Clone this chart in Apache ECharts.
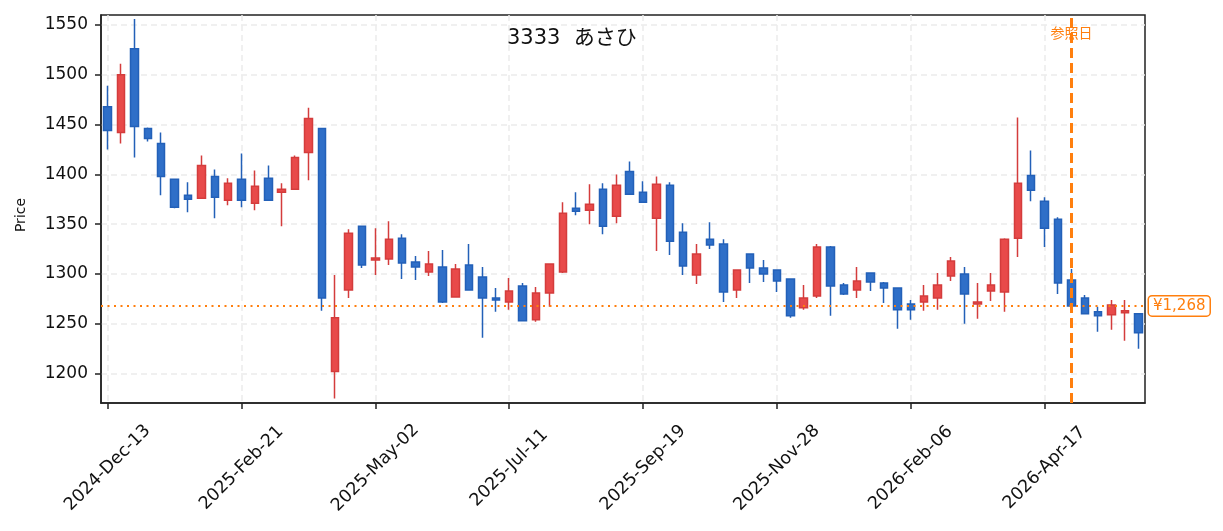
<!DOCTYPE html>
<html>
<head>
    <meta charset="UTF-8">
    <title>3333 あさひ</title>
    <script src="https://cdn.jsdelivr.net/npm/echarts@6/dist/echarts.min.js"></script>
    <style>
        html, body { margin:0; padding:0; background:#ffffff; }
        #chart { width:1223px; height:531px; }
    </style>
</head>
<body>
    <div id="chart"></div>
    <script>
        // weekly candles (Fri)
        var dates = [
            "2024-12-13","2024-12-20","2024-12-27","2025-01-03","2025-01-10","2025-01-17","2025-01-24","2025-01-31","2025-02-07","2025-02-14",
            "2025-02-21","2025-02-28","2025-03-07","2025-03-14","2025-03-21","2025-03-28","2025-04-04","2025-04-11","2025-04-18","2025-04-25",
            "2025-05-02","2025-05-09","2025-05-16","2025-05-23","2025-05-30","2025-06-06","2025-06-13","2025-06-20","2025-06-27","2025-07-04",
            "2025-07-11","2025-07-18","2025-07-25","2025-08-01","2025-08-08","2025-08-15","2025-08-22","2025-08-29","2025-09-05","2025-09-12",
            "2025-09-19","2025-09-26","2025-10-03","2025-10-10","2025-10-17","2025-10-24","2025-10-31","2025-11-07","2025-11-14","2025-11-21",
            "2025-11-28","2025-12-05","2025-12-12","2025-12-19","2025-12-26","2026-01-02","2026-01-09","2026-01-16","2026-01-23","2026-01-30",
            "2026-02-06","2026-02-13","2026-02-20","2026-02-27","2026-03-06","2026-03-13","2026-03-20","2026-03-27","2026-04-03","2026-04-10",
            "2026-04-17","2026-04-24","2026-05-01","2026-05-08","2026-05-15","2026-05-22","2026-05-29","2026-06-05"
        ];
        var opens = [
            1468,1442,1526,1446,1431,1395,1379,1376,1398,1374,
            1395,1371,1396,1382,1385,1422,1446,1202,1284,1348,
            1314,1315,1336,1312,1302,1307,1277,1309,1297,1276,
            1272,1288,1254,1281,1302,1366,1364,1385,1358,1403,
            1382,1356,1389,1342,1299,1335,1330,1284,1320,1306,
            1304,1295,1266,1278,1327,1289,1284,1301,1291,1286,
            1270,1272,1276,1298,1300,1270,1283,1282,1336,1399,
            1373,1355,1294,1276,1262,1259,1261,1260
        ];
        var closes = [
            1444,1500,1448,1436,1398,1367,1375,1409,1377,1391,
            1374,1388,1374,1385,1417,1456,1276,1256,1341,1309,
            1316,1335,1311,1307,1310,1272,1305,1284,1276,1274,
            1283,1253,1281,1310,1361,1363,1370,1348,1389,1380,
            1372,1390,1333,1308,1320,1329,1282,1304,1306,1300,
            1293,1258,1276,1327,1288,1280,1293,1292,1286,1264,
            1264,1278,1289,1313,1280,1272,1289,1335,1391,1384,
            1346,1291,1268,1260,1258,1269,1263,1241
        ];
        var lows = [
            1425,1431,1417,1433,1379,1366,1362,1376,1356,1369,
            1367,1364,1374,1348,1385,1394,1263,1175,1276,1306,
            1299,1309,1295,1294,1298,1271,1277,1284,1236,1262,
            1264,1253,1252,1267,1301,1359,1350,1340,1351,1380,
            1372,1323,1319,1299,1290,1325,1272,1276,1291,1292,
            1282,1256,1264,1276,1258,1279,1276,1283,1271,1245,
            1254,1263,1264,1293,1250,1255,1273,1262,1317,1373,
            1327,1280,1264,1260,1242,1244,1233,1225
        ];
        var highs = [
            1489,1511,1556,1447,1442,1395,1392,1419,1405,1396,
            1421,1404,1409,1391,1419,1467,1446,1299,1345,1348,
            1346,1353,1340,1318,1323,1324,1310,1330,1307,1286,
            1296,1291,1287,1310,1372,1382,1390,1391,1400,1413,
            1393,1398,1392,1351,1330,1352,1335,1304,1320,1314,
            1304,1295,1289,1330,1328,1291,1307,1301,1292,1286,
            1274,1289,1301,1317,1307,1291,1301,1336,1457,1424,
            1377,1357,1305,1279,1267,1274,1274,1260
        ];
        var refDate = "2026-05-01";
        var refPrice = 1268;
        var title = "3333  あさひ";

        var months = ["Jan","Feb","Mar","Apr","May","Jun","Jul","Aug","Sep","Oct","Nov","Dec"];
        function fmtDate(s) {
            var p = s.split("-");
            return p[0] + "-" + months[parseInt(p[1], 10) - 1] + "-" + p[2];
        }

        var ohlc = [];
        for (var i = 0; i < dates.length; i++) {
            ohlc.push([opens[i], closes[i], lows[i], highs[i]]);
        }

        var FONT = "'DejaVu Sans', 'Noto Sans CJK JP', sans-serif";
        var JP = "'Noto Sans CJK JP', sans-serif";
        var ORANGE = '#ff7f0e';
        var chart = echarts.init(document.getElementById('chart'), null, {renderer: 'canvas'});

        chart.setOption({
            animation: false,
            backgroundColor: '#ffffff',
            textStyle: {fontFamily: FONT},
            graphic: [{
                type: 'text', left: 507, top: 28,
                style: {text: title, font: "21px " + FONT, fill: '#111111'}
            }, {
                // y axis title, placed like the original
                type: 'text', x: 21, y: 215, rotation: Math.PI / 2,
                style: {text: 'Price', font: "14px " + FONT, fill: '#111111', align: 'center', verticalAlign: 'middle'}
            }],
            grid: {
                left: 101, right: 78, top: 15, bottom: 128,
                show: true, borderColor: '#222222', borderWidth: 1.5
            },
            xAxis: {
                type: 'category',
                data: dates,
                boundaryGap: true,
                axisLine: {lineStyle: {color: '#222222', width: 1.5}},
                axisTick: {show: true, alignWithLabel: true, interval: 9, length: 6, lineStyle: {color: '#222222', width: 1.5}},
                axisLabel: {
                    interval: 9, rotate: 45, margin: 65,
                    align: 'center', verticalAlign: 'middle',
                    fontSize: 17.5, color: '#111111', fontFamily: FONT,
                    formatter: fmtDate
                },
                splitLine: {show: true, alignWithLabel: true, interval: 9, lineStyle: {color: '#ebebeb', type: [6, 4], width: 1.5}}
            },
            yAxis: {
                type: 'value',
                min: 1170.5, max: 1560,
                splitNumber: 8,
                axisLine: {show: true, lineStyle: {color: '#222222', width: 1.5}},
                axisTick: {show: true, length: 6, lineStyle: {color: '#222222', width: 1.5}},
                axisLabel: {
                    fontSize: 17, color: '#111111', margin: 13, fontFamily: FONT,
                    showMinLabel: false, showMaxLabel: false,
                    formatter: function (v) { return String(v); }
                },
                splitLine: {show: true, showMinLine: false, showMaxLine: false, lineStyle: {color: '#ebebeb', type: [6, 4], width: 1.5}}
            },
            series: [{
                type: 'candlestick',
                data: ohlc,
                barWidth: 8,
                itemStyle: {
                    color: '#e84a4a', color0: '#2f6fc8',
                    borderColor: '#d43c3c', borderColor0: '#2360b8',
                    borderWidth: 1.5
                },
                markLine: {
                    symbol: ['none', 'none'],
                    silent: true,
                    data: [
                        {
                            xAxis: refDate,
                            lineStyle: {color: ORANGE, type: [10, 5], width: 3},
                            label: {show: false}
                        },
                        {
                            yAxis: refPrice,
                            lineStyle: {color: ORANGE, type: [2, 4.5], width: 2},
                            label: {
                                show: true, position: 'end', distance: 4,
                                formatter: '¥1,268', color: ORANGE, fontSize: 15, fontFamily: FONT,
                                backgroundColor: '#ffffff', borderColor: ORANGE, borderWidth: 1.5,
                                borderRadius: 3, padding: [2, 4, 2, 4]
                            }
                        }
                    ]
                },
                markPoint: {
                    symbol: 'rect', symbolSize: 0,
                    silent: true,
                    data: [{
                        coord: [refDate, 1560],
                        label: {show: true, position: 'bottom', distance: 11, formatter: '参照日', color: ORANGE, fontSize: 14, fontFamily: JP}
                    }]
                }
            }]
        });
    </script>
</body>
</html>
